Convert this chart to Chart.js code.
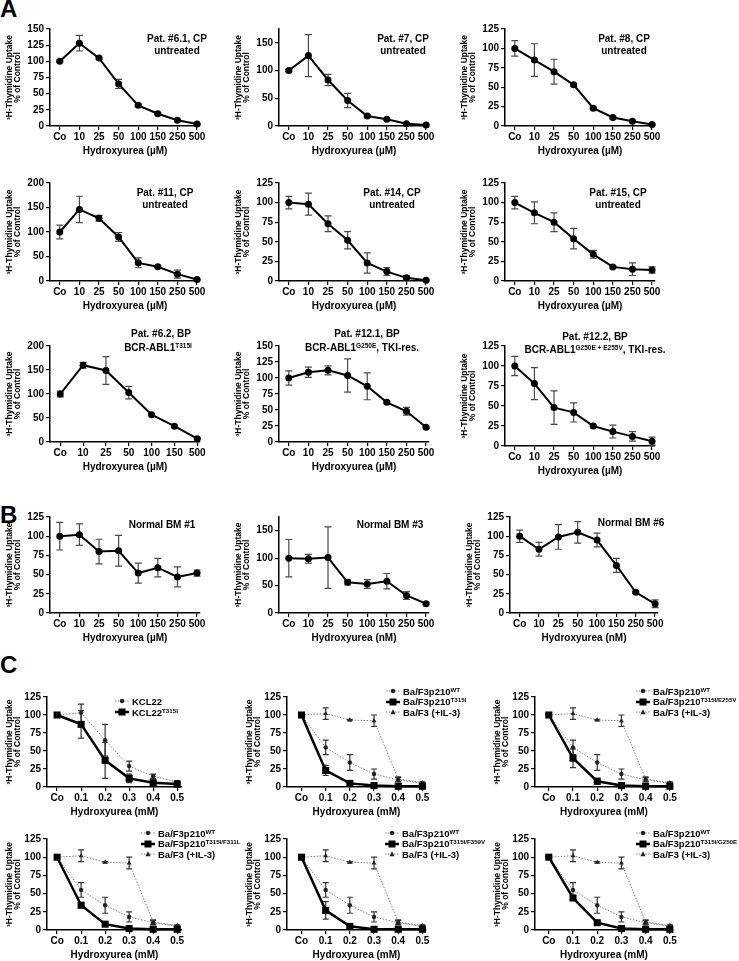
<!DOCTYPE html>
<html>
<head>
<meta charset="utf-8">
<script src="https://cdn.jsdelivr.net/npm/chart.js@4.4.0/dist/chart.umd.min.js"></script>
<style>
body { margin: 0; background: #fff; width: 739px; height: 961px; position: relative; overflow: hidden;
       font-family: "Liberation Sans", Arial, sans-serif; font-weight: bold; color: #000; }
canvas { position: absolute; }
.ttl { position: absolute; width: 260px; text-align: center; font-size: 10px; line-height: 12px; white-space: nowrap; }
.letter { position: absolute; font-size: 24px; line-height: 24px; }
.leg { position: absolute; display: flex; align-items: center; height: 12px; font-size: 9.5px; white-space: nowrap; }
.leg svg { margin-right: 3px; }
sup { font-size: 65%; line-height: 0; vertical-align: 0.5em; }
</style>
</head>
<body>
<div class="letter" style="left:0;top:-3px">A</div>
<div class="letter" style="left:0;top:503px">B</div>
<div class="letter" style="left:0;top:653px">C</div>
<script>
// x categories
const uMCats = ['Co', '10', '25', '50', '100', '150', '250', '500'];
const uMCats7 = ['Co', '10', '25', '50', '100', '150', '500'];
const mMCats = ['Co', '0.1', '0.2', '0.3', '0.4', '0.5'];

// panel A - patient cells (% of control, mean and error)
const pat61 = [100, 128, 105, 65, 32, 19, 9, 3];
const pat61Err = [1.5, 12, 1.5, 7, 2, 1.5, 1, 1];
const pat7 = [100, 127, 83, 46, 18, 12, 4, 2];
const pat7Err = [2, 38, 10, 13, 2, 1.5, 1, 1];
const pat8 = [100, 85, 70, 53, 23, 11, 6, 2];
const pat8Err = [10, 21, 16, 1.5, 1.5, 1.5, 1, 1];
const pat11 = [100, 146, 128, 90, 37, 29, 14, 3];
const pat11Err = [14, 27, 6, 9, 10, 2, 8, 1];
const pat14 = [100, 98, 73, 52, 23, 12, 4, 1];
const pat14Err = [8, 14, 10, 11, 13, 5, 3, 1];
const pat15 = [100, 87, 75, 54, 34, 18, 15, 14];
const pat15Err = [8, 14, 12, 13, 5, 1.5, 8, 4];
const pat62 = [100, 160, 149, 103, 57, 33, 7];
const pat62Err = [6, 6, 29, 13, 2, 2, 1];
const pat121 = [100, 109, 112, 104, 87, 62, 48, 23];
const pat121Err = [11, 8, 7, 26, 21, 2, 6, 1.5];
const pat122 = [100, 78, 48, 42, 25, 18, 12, 6];
const pat122Err = [12, 20, 21, 12, 1.5, 8, 6, 5];

// panel B - normal bone marrow
const bm1 = [100, 102, 80, 81, 52, 59, 47, 52];
const bm1Err = [18, 14, 16, 20, 13, 12, 13, 4];
const bm3 = [100, 99, 101, 56, 53, 58, 32, 17];
const bm3Err = [34, 8, 56, 5, 8, 14, 7, 2];
const bm6 = [100, 83, 99, 105, 95, 62, 27, 12];
const bm6Err = [8, 9, 16, 14, 9, 9, 1.5, 5];

// panel C - cell lines
const kcl22 = [100, 103, 65, 29, 15, 7];
const kcl22Err = [1, 12, 22, 7, 3, 2];
const kcl22T315I = [100, 87, 37, 12, 6, 4];
const kcl22T315IErr = [1, 19, 25, 6, 3, 2];
const baWT = [100, 55, 34, 18, 10, 5];
const baWTErr = [1, 10, 11, 7, 3, 1];
const baIL3 = [100, 102, 93, 92, 11, 6];
const baIL3Err = [1, 8, 1, 8, 3, 1];
const baT315I = [100, 23, 5, 2, 1, 1];
const baT315IErr = [1, 7, 1, 1, 1, 1];
const baE255V = [100, 40, 8, 2, 1, 1];
const baE255VErr = [1, 13, 4, 1, 1, 1];
const baF311L = [100, 34, 8, 2, 1, 1];
const baF311LErr = [1, 2, 1.5, 1, 1, 1];
const baF359V = [100, 27, 5, 1, 1, 1];
const baF359VErr = [1, 12, 1, 1, 1, 1];
const baG250E = [100, 44, 10, 2, 1, 1];
const baG250EErr = [1, 1.5, 1.5, 1, 1, 1];

Chart.defaults.font.family = '"Liberation Sans", Arial, sans-serif';
Chart.defaults.font.weight = 'bold';
Chart.defaults.color = '#000';

// vertical error bars with caps, drawn under the lines
const errorBars = {
    id: 'errorBars',
    beforeDatasetsDraw(chart) {
        const { ctx, scales: { x, y } } = chart;
        chart.data.datasets.forEach(ds => {
            if (!ds.errors) return;
            ctx.save();
            ctx.strokeStyle = ds.errorColor;
            ctx.lineWidth = 1.2;
            ds.data.forEach((pt, i) => {
                const e = ds.errors[i];
                if (!e) return;
                const px = x.getPixelForValue(pt.x);
                const hi = y.getPixelForValue(pt.y + e);
                const lo = y.getPixelForValue(pt.y - e);
                const cap = ds.capHalf;
                ctx.beginPath();
                ctx.moveTo(px, hi); ctx.lineTo(px, lo);
                ctx.moveTo(px - cap, hi); ctx.lineTo(px + cap, hi);
                ctx.moveTo(px - cap, lo); ctx.lineTo(px + cap, lo);
                ctx.stroke();
            });
            ctx.restore();
        });
    }
};

function solid(values, errors) {
    return { values, errors, color: '#000', width: 2, point: 'circle', radius: 3.5, pointColor: '#000', errColor: '#4a4a4a', cap: 3.5 };
}
function mutant(values, errors) {
    return { values, errors, color: '#000', width: 2.5, point: 'rect', radius: 5, pointColor: '#000', errColor: '#333', cap: 3 };
}
function dotted(values, errors, point) {
    return { values, errors, color: '#808080', width: 1, dash: [1.5, 1.5], point, radius: point === 'triangle' ? 2.8 : 2.2, pointColor: '#222', errColor: '#333', cap: 3 };
}

function drawPanel(p) {
    const yw = p.yw || 50, padTop = 8, padRight = 14, xh = 31;
    const cv = document.createElement('canvas');
    cv.width = yw + (p.right - p.left) + padRight;
    cv.height = padTop + (p.bottom - p.top) + xh;
    cv.style.left = (p.left - yw) + 'px';
    cv.style.top = (p.top - padTop) + 'px';
    document.body.appendChild(cv);

    const axisFont = { size: 10, weight: 'bold' };
    new Chart(cv, {
        type: 'line',
        data: {
            datasets: p.series.map(s => ({
                data: s.values.map((v, i) => ({ x: i, y: v })),
                errors: s.errors,
                errorColor: s.errColor,
                capHalf: s.cap,
                borderColor: s.color,
                borderWidth: s.width,
                borderDash: s.dash || [],
                pointStyle: s.point,
                pointRadius: s.radius,
                pointBackgroundColor: s.pointColor,
                pointBorderColor: s.pointColor,
                pointBorderWidth: 0,
                tension: 0,
                clip: false
            }))
        },
        options: {
            responsive: false,
            animation: false,
            devicePixelRatio: 1,
            layout: { padding: { top: padTop, right: padRight, left: 0, bottom: 0 } },
            plugins: { legend: { display: false }, tooltip: { enabled: false } },
            scales: {
                x: {
                    type: 'linear',
                    min: p.xmin,
                    max: p.xmax,
                    afterBuildTicks: s => { s.ticks = p.cats.map((c, i) => ({ value: i })); },
                    afterFit: s => { s.height = xh; },
                    ticks: { callback: v => p.cats[v], padding: 1, autoSkip: false, maxRotation: 0, minRotation: 0, font: axisFont, color: '#000' },
                    grid: { drawOnChartArea: false, tickLength: 4, color: '#000', lineWidth: 1.2 },
                    border: { color: '#000', width: 1.5 },
                    title: { display: true, text: p.xTitle, padding: { top: 0, bottom: 0 }, font: axisFont, color: '#000' }
                },
                y: {
                    min: 0,
                    max: p.ymax,
                    afterFit: s => { s.width = yw; },
                    ticks: { stepSize: 25, padding: 2, font: axisFont, color: '#000' },
                    grid: { drawOnChartArea: false, tickLength: 4, color: '#000', lineWidth: 1.2 },
                    border: { color: '#000', width: 1.5 },
                    title: {
                        display: true,
                        text: ['³H-Thymidine Uptake', '% of Control'],
                        padding: { top: 6, bottom: 0 },
                        font: { size: 8.5, weight: 'bold', lineHeight: 0.95 },
                        color: '#000'
                    }
                }
            }
        },
        plugins: [errorBars]
    });
}

function addTitle(html, cx, cy) {
    const d = document.createElement('div');
    d.className = 'ttl';
    d.style.left = (cx - 130) + 'px';
    d.style.top = (cy - 6) + 'px';
    d.innerHTML = html;
    document.body.appendChild(d);
}

function markerSvg(kind) {
    let s = '<svg width="14" height="10">';
    if (kind === 'mut') {
        s += '<line x1="0" y1="5" x2="14" y2="5" stroke="#000" stroke-width="2.5"/><rect x="3.5" y="1.5" width="7" height="7" fill="#000"/>';
    } else {
        s += '<line x1="0" y1="5" x2="14" y2="5" stroke="#808080" stroke-width="1" stroke-dasharray="1.5,1.5"/>';
        s += kind === 'tri' ? '<polygon points="7,2.3 9.6,7.2 4.4,7.2" fill="#222"/>' : '<circle cx="7" cy="5" r="2.2" fill="#222"/>';
    }
    return s + '</svg>';
}

function addLegend(x, y, gap, items) {
    items.forEach((it, i) => {
        const d = document.createElement('div');
        d.className = 'leg';
        d.style.left = (x - 17) + 'px';
        d.style.top = (y + i * gap - 6) + 'px';
        d.innerHTML = markerSvg(it[0]) + '<span>' + it[1] + '</span>';
        document.body.appendChild(d);
    });
}

const uM = 'Hydroxyurea (µM)', nM = 'Hydroxyurea (nM)', mM = 'Hydroxyurea (mM)';
const aCol = { xmin: -0.5, xmax: 7.15 };

// panel A
drawPanel({ left: 50, right: 200, top: 29, bottom: 126, ymax: 150, cats: uMCats, ...aCol, xTitle: uM, series: [solid(pat61, pat61Err)] });
drawPanel({ left: 279, right: 429, top: 29, bottom: 126, ymax: 175, cats: uMCats, ...aCol, xTitle: uM, series: [solid(pat7, pat7Err)] });
drawPanel({ left: 505, right: 655, top: 29, bottom: 126, ymax: 125, cats: uMCats, ...aCol, xTitle: uM, series: [solid(pat8, pat8Err)] });
drawPanel({ left: 50, right: 200, top: 183, bottom: 281, ymax: 200, cats: uMCats, ...aCol, xTitle: uM, series: [solid(pat11, pat11Err)] });
drawPanel({ left: 279, right: 429, top: 183, bottom: 281, ymax: 125, cats: uMCats, ...aCol, xTitle: uM, series: [solid(pat14, pat14Err)] });
drawPanel({ left: 505, right: 655, top: 183, bottom: 281, ymax: 125, cats: uMCats, ...aCol, xTitle: uM, series: [solid(pat15, pat15Err)] });
drawPanel({ left: 50, right: 200, top: 346, bottom: 442, ymax: 200, cats: uMCats7, xmin: -0.45, xmax: 6.12, xTitle: uM, series: [solid(pat62, pat62Err)] });
drawPanel({ left: 279, right: 429, top: 346, bottom: 442, ymax: 150, cats: uMCats, ...aCol, xTitle: uM, series: [solid(pat121, pat121Err)] });
drawPanel({ left: 505, right: 655, top: 346, bottom: 446, ymax: 125, cats: uMCats, ...aCol, xTitle: uM, series: [solid(pat122, pat122Err)] });

// panel B
drawPanel({ left: 50, right: 200, top: 517, bottom: 613, ymax: 125, cats: uMCats, ...aCol, xTitle: uM, series: [solid(bm1, bm1Err)] });
drawPanel({ left: 279, right: 429, top: 517, bottom: 613, ymax: 175, cats: uMCats, ...aCol, xTitle: nM, series: [solid(bm3, bm3Err)] });
drawPanel({ left: 510, right: 658, top: 517, bottom: 613, ymax: 125, cats: uMCats, ...aCol, xTitle: nM, series: [solid(bm6, bm6Err)] });

// panel C
const cCols = [
    { left: 47, right: 182, xmin: -0.42, xmax: 5.2 },
    { left: 287, right: 426, xmin: -0.6, xmax: 5.15 },
    { left: 535, right: 673, xmin: -0.57, xmax: 5.13 }
];
const cRows = [{ top: 697, bottom: 787 }, { top: 839, bottom: 930 }];
function drawC(col, row, series) {
    drawPanel({ ...cCols[col], ...cRows[row], yw: 47, ymax: 125, cats: mMCats, xTitle: mM, series });
}
drawC(0, 0, [mutant(kcl22T315I, kcl22T315IErr), dotted(kcl22, kcl22Err, 'circle')]);
drawC(1, 0, [mutant(baT315I, baT315IErr), dotted(baWT, baWTErr, 'circle'), dotted(baIL3, baIL3Err, 'triangle')]);
drawC(2, 0, [mutant(baE255V, baE255VErr), dotted(baWT, baWTErr, 'circle'), dotted(baIL3, baIL3Err, 'triangle')]);
drawC(0, 1, [mutant(baF311L, baF311LErr), dotted(baWT, baWTErr, 'circle'), dotted(baIL3, baIL3Err, 'triangle')]);
drawC(1, 1, [mutant(baF359V, baF359VErr), dotted(baWT, baWTErr, 'circle'), dotted(baIL3, baIL3Err, 'triangle')]);
drawC(2, 1, [mutant(baG250E, baG250EErr), dotted(baWT, baWTErr, 'circle'), dotted(baIL3, baIL3Err, 'triangle')]);

// in-plot titles
addTitle('Pat. #6.1, CP', 177, 39); addTitle('untreated', 177, 51);
addTitle('Pat. #7, CP', 403, 39); addTitle('untreated', 403, 51);
addTitle('Pat. #8, CP', 624, 39); addTitle('untreated', 624, 51);
addTitle('Pat. #11, CP', 165, 193); addTitle('untreated', 165, 205);
addTitle('Pat. #14, CP', 392, 193); addTitle('untreated', 392, 205);
addTitle('Pat. #15, CP', 618, 193); addTitle('untreated', 618, 205);
addTitle('Pat. #6.2, BP', 161, 334); addTitle('BCR-ABL1<sup>T315I</sup>', 158, 348);
addTitle('Pat. #12.1, BP', 367, 334); addTitle('BCR-ABL1<sup>G250E</sup>, TKI-res.', 362, 348);
addTitle('Pat. #12.2, BP', 595, 337); addTitle('BCR-ABL1<sup>G250E + E255V</sup>, TKI-res.', 595, 350);
addTitle('Normal BM #1', 162, 525);
addTitle('Normal BM #3', 390, 525);
addTitle('Normal BM #6', 631, 523);

// legends
const wtLabel = 'Ba/F3p210<sup>WT</sup>', il3Label = 'Ba/F3 (+IL-3)';
addLegend(132, 701, 11, [['dot', 'KCL22'], ['mut', 'KCL22<sup>T315I</sup>']]);
addLegend(403, 691, 10.5, [['dot', wtLabel], ['mut', 'Ba/F3p210<sup>T315I</sup>'], ['tri', il3Label]]);
addLegend(653, 691, 10.5, [['dot', wtLabel], ['mut', 'Ba/F3p210<sup>T315I/E255V</sup>'], ['tri', il3Label]]);
addLegend(158, 833, 10.5, [['dot', wtLabel], ['mut', 'Ba/F3p210<sup>T315I/F311L</sup>'], ['tri', il3Label]]);
addLegend(402, 833, 10.5, [['dot', wtLabel], ['mut', 'Ba/F3p210<sup>T315I/F359V</sup>'], ['tri', il3Label]]);
addLegend(653, 833, 10.5, [['dot', wtLabel], ['mut', 'Ba/F3p210<sup>T315I/G250E</sup>'], ['tri', il3Label]]);
</script>
</body>
</html>
